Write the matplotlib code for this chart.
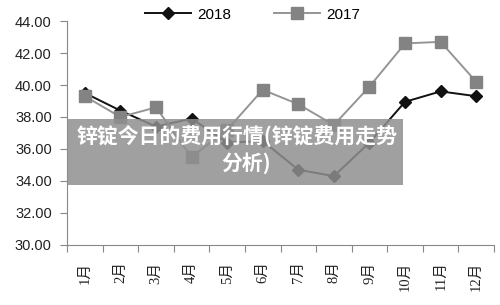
import matplotlib
matplotlib.use("Agg")
import matplotlib.pyplot as plt
from matplotlib.patches import Rectangle

months = ["1月", "2月", "3月", "4月", "5月", "6月", "7月", "8月", "9月", "10月", "11月", "12月"]
series_2018 = [39.5, 38.4, 37.4, 37.9, 36.4, 36.5, 34.7, 34.3, 36.4, 38.95, 39.6, 39.3]
series_2017 = [39.3, 38.0, 38.6, 35.5, 37.2, 39.7, 38.8, 37.5, 39.9, 42.6, 42.7, 40.2]
yticks = [30, 32, 34, 36, 38, 40, 42, 44]
overlay_lines = ["锌锭今日的费用行情(锌锭费用走势", "分析)"]

fig = plt.figure(figsize=(5.0, 3.05), dpi=100)
ax = fig.add_axes([0.134, 0.197, 0.854, 0.734])

x = list(range(len(months)))
l18, = ax.plot(x, series_2018, color="#111111", lw=1.4, marker="D", ms=6,
               markerfacecolor="#111111", markeredgecolor="#111111", zorder=3, label="2018")
l17, = ax.plot(x, series_2017, color="#959595", lw=1.4, marker="s", ms=8,
               markerfacecolor="#838383", markeredgecolor="#838383", zorder=4, label="2017")

ax.set_xlim(-0.5, len(months) - 0.5)
ax.set_ylim(30, 44)
ax.set_yticks(yticks)
ax.set_yticklabels([f"{v:.2f}" for v in yticks], fontsize=10.5, family="Liberation Sans", color="#222222")
ax.set_xticks([i - 0.5 for i in range(len(months) + 1)], minor=False)
ax.set_xticklabels([])
ax.set_xticks(x, minor=True)
ax.set_xticklabels(months, minor=True, rotation=90, fontsize=10.5,
                   family=["Liberation Serif", "Noto Sans CJK SC"], color="#222222")
ax.tick_params(axis="x", which="minor", length=0, pad=12)
ax.tick_params(axis="x", which="major", length=5, color="#888888")
ax.tick_params(axis="y", length=5, color="#888888", pad=6)
for s in ["top", "right"]:
    ax.spines[s].set_visible(False)
for s in ["left", "bottom"]:
    ax.spines[s].set_color("#888888")

fig.legend(handles=[l18, l17], loc="upper center", bbox_to_anchor=(0.505, 1.02), ncol=2,
           frameon=False, prop={"family": "Liberation Sans", "size": 11},
           handlelength=3.0, columnspacing=2.8, handletextpad=0.4)

# overlay band
fig.add_artist(Rectangle((0.134, 1 - 185 / 305), (403 - 67) / 500, (185 - 119) / 305,
                         transform=fig.transFigure, facecolor="#8f8f8f", alpha=0.85,
                         edgecolor="none", zorder=10))
fig.text(237 / 500, 1 - 137 / 305, overlay_lines[0], color="white", fontsize=15, fontweight="heavy",
         family=["Noto Sans CJK SC", "DejaVu Sans"], ha="center", va="center", zorder=11)
fig.text(246 / 500, 1 - 163 / 305, overlay_lines[1], color="white", fontsize=15, fontweight="heavy",
         family=["Noto Sans CJK SC", "DejaVu Sans"], ha="center", va="center", zorder=11)

fig.savefig("out.png", dpi=100)
